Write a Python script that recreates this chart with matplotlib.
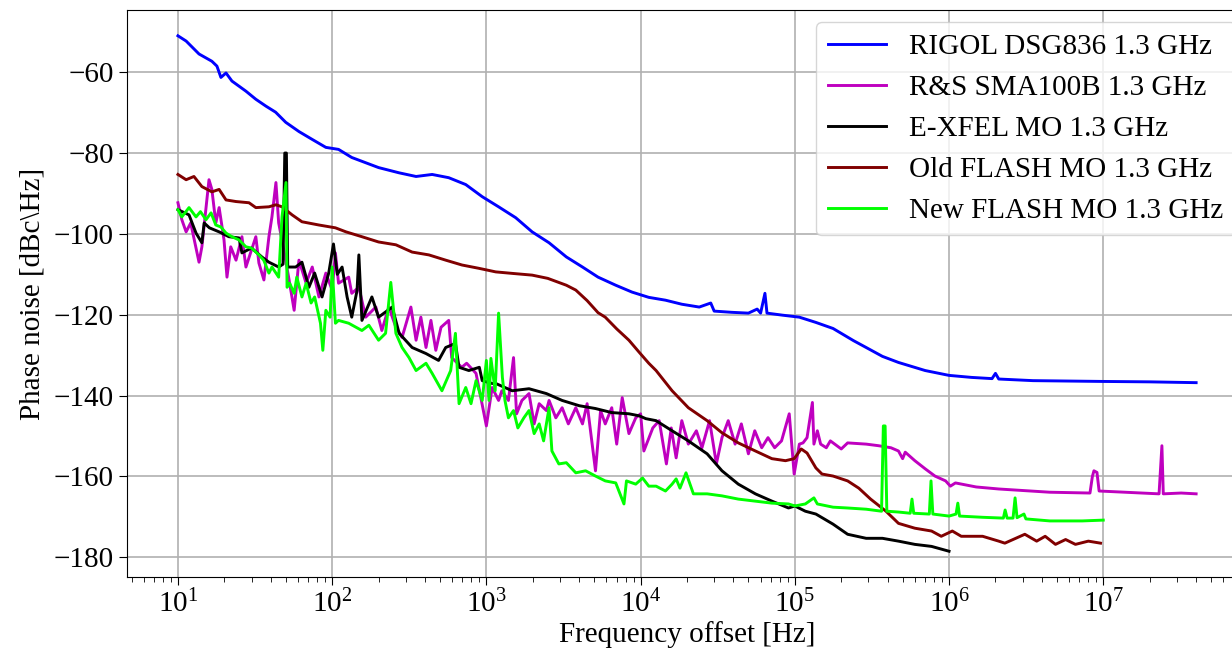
import numpy as np
import matplotlib
matplotlib.use("Agg")
import matplotlib.pyplot as plt
from matplotlib.ticker import NullFormatter

plt.rcParams['font.family'] = ['Liberation Serif', 'DejaVu Serif']
plt.rcParams['mathtext.fontset'] = 'stix'

# (frequency offset [Hz], phase noise [dBc/Hz])
rigol = [(10, -51), (11.3, -52.3), (13.7, -55.5), (16.6, -57.3), (17.9, -58.5), (19, -61.3),
         (20.5, -60.2), (22.4, -62.2), (27.6, -64.7), (32, -66.7), (37.2, -68.4), (43, -69.9),
         (50, -72.4), (61, -74.7), (74, -76.6), (91, -78.6), (110, -79.1), (134, -81.1),
         (165, -82.4), (200, -83.6), (272, -84.9), (350, -85.8), (445, -85.3), (570, -86.1),
         (735, -87.8), (940, -90.8), (1200, -93.3), (1550, -96), (1980, -99.5), (2550, -102.2),
         (3300, -105.7), (4200, -108.2), (5300, -110.7), (6900, -112.7), (8800, -114.4),
         (11300, -115.7), (14500, -116.4), (18500, -117.4), (24000, -118.1), (28500, -117.1),
         (30000, -119.1), (39000, -119.4), (50000, -119.6), (57000, -118.6), (60000, -119.6),
         (64000, -114.7), (66000, -119.6), (83000, -120.1), (107000, -120.6), (137000, -121.9),
         (177000, -123.4), (240000, -126.4), (290000, -128.1), (370000, -130.3), (470000, -131.8),
         (700000, -133.8), (1e6, -135), (1.4e6, -135.5), (1.9e6, -135.8), (2.0e6, -134.5),
         (2.1e6, -135.9), (3.5e6, -136.3), (1e7, -136.5), (2e7, -136.6), (4e7, -136.8)]

rs_sma = [(10, -92.3), (10.6, -96.5), (11.3, -99.5), (12.1, -97.3), (13.7, -107), (14.3, -103.2),
          (15.9, -86.6), (16.6, -89), (17.6, -97.3), (18.5, -93.5), (19.9, -101.5), (20.8, -110.7),
          (22, -103.2), (23.8, -106.5), (26, -100.7), (27.6, -108.2), (32, -100.7), (33.5, -107.2),
          (36.1, -111.4), (38.9, -100.7), (40.7, -95.8), (43.2, -87.3), (45, -97.3), (48.6, -104),
          (52.6, -111.4), (56.7, -118.9), (60.9, -106.5), (67.8, -112.2), (74.3, -108.2),
          (82.1, -115.6), (91, -109.7), (100, -113.9), (105, -104.7), (110, -112.2), (128, -110.7),
          (134, -114.7), (149, -113.2), (165, -120.6), (192, -118.1), (210, -123.9), (233, -118.1),
          (259, -123.1), (284, -125.6), (324, -118.1), (350, -126.3), (376, -120.6), (406, -128.1),
          (437, -121.4), (470, -128.8), (508, -123.1), (570, -121.4), (596, -130.6), (692, -133),
          (745, -132), (857, -134.5), (1000, -147.5), (1090, -138), (1200, -141.2), (1260, -138.8),
          (1390, -141.2), (1500, -130.6), (1570, -144.5), (1700, -141.2), (1890, -139.5),
          (2040, -147), (2200, -142), (2450, -143.7), (2550, -141.2), (2820, -145.5), (3100, -143),
          (3400, -147), (3800, -143), (4200, -147), (4500, -142), (5100, -158.6), (5500, -143.7),
          (5900, -147), (6500, -143), (7000, -152), (7600, -140.5), (8400, -149.4), (9300, -145.5),
          (10000, -144.5), (10500, -153.7), (12000, -148), (13200, -146.2), (14700, -156.9),
          (15800, -148), (17000, -155.4), (18500, -146.2), (20400, -152), (23000, -148.7),
          (25000, -152.9), (28000, -146.2), (31000, -156.9), (33700, -150.4), (37000, -146.2),
          (41000, -152), (45000, -147), (50000, -154.4), (55000, -148.7), (61000, -152.9),
          (67000, -150.4), (74000, -152.9), (82000, -151.2), (92000, -144.5), (99000, -159.4),
          (107000, -152), (113000, -151.7), (120000, -150.4), (130000, -141.7), (133000, -152),
          (140000, -148.7), (147000, -152), (160000, -152.9), (170000, -151.2), (200000, -153.2),
          (220000, -151.7), (290000, -152), (350000, -152.4), (420000, -152.9), (470000, -153.7),
          (500000, -155.6), (520000, -154), (600000, -156.1), (700000, -158.1), (810000, -159.9),
          (950000, -161.1), (1020000, -162.4), (1100000, -161.6), (1500000, -162.6),
          (2100000, -163.1), (4500000, -163.9), (8200000, -164.1), (8500000, -160),
          (8700000, -158.6), (9100000, -159), (9400000, -163.6), (2.3e7, -164.3), (2.4e7, -152.4),
          (2.45e7, -164.3), (3.2e7, -164.1), (4.0e7, -164.3)]

exfel = [(10, -94), (11.8, -95.3), (13.1, -99.8), (14.3, -102.2), (14.8, -97.3), (16, -98.5),
         (18.5, -99.5), (21.4, -100.7), (24.9, -101), (26, -104.7), (30, -103.5), (35, -105.7),
         (38.9, -107), (45, -108.2), (48, -107.5), (49.3, -80), (50.5, -80), (51.5, -108.2),
         (58, -108.2), (63.7, -107), (70.7, -113.2), (77, -109.7), (86, -115.6), (95, -109.7),
         (102, -102.5), (108, -110), (116, -108.2), (125, -115.6), (134, -120.6), (145, -114),
         (149, -105.2), (156, -121.4), (181, -115.6), (200, -120.6), (245, -118.1), (272, -124.6),
         (330, -128.1), (406, -129.6), (490, -131.3), (545, -128.1), (630, -127.1), (665, -133),
         (770, -133.8), (900, -133), (940, -136.3), (1090, -137), (1150, -137), (1470, -138.8),
         (1890, -138.3), (2450, -139.5), (3100, -141.2), (4000, -142.5), (5100, -143.2),
         (6500, -144.2), (8400, -144.5), (9800, -145), (10800, -145.7), (12600, -146.2),
         (16000, -148.7), (20400, -151.2), (27000, -154.4), (33700, -158.6), (43000, -161.9),
         (55500, -164.3), (71000, -166.1), (91000, -167.8), (100000, -167.3), (117000, -168.6),
         (137000, -169.3), (177000, -171.8), (220000, -174.3), (290000, -175.3), (370000, -175.3),
         (470000, -176), (600000, -176.8), (770000, -177.3), (1000000, -178.5)]

old_flash = [(10, -85.3), (11.3, -86.6), (12.7, -85.8), (14.3, -88.3), (16.6, -89.6), (18.5, -89),
             (20.5, -91.6), (23.8, -92), (28.9, -92.3), (32, -93.5), (38.9, -93.3), (43.2, -92.8),
             (47.3, -93.3), (55, -95.3), (63.7, -97), (82, -97.8), (105, -98.5), (123, -99.5),
             (156, -100.7), (200, -102), (259, -102.7), (330, -104.5), (424, -105.2), (545, -106.5),
             (695, -107.7), (890, -108.5), (1150, -109.4), (1500, -109.8), (1980, -110.2),
             (2500, -111), (3300, -112.7), (3800, -113.9), (4500, -116.5), (5300, -119.5),
             (5900, -120.6), (7000, -123.5), (8400, -126.3), (9800, -129.3), (11300, -132),
             (12600, -133.8), (16000, -138.8), (20400, -143), (27000, -146.2), (33700, -149.2),
             (43000, -151.7), (55500, -153.7), (71000, -155.6), (87000, -156.1), (99000, -155.6),
             (110000, -153.2), (120000, -154.2), (137000, -157.9), (150000, -159.4),
             (177000, -159.9), (220000, -161.1), (260000, -162.9), (310000, -165.6),
             (390000, -168.6), (470000, -171.6), (600000, -172.8), (770000, -173.5),
             (890000, -174.8), (1050000, -173.5), (1200000, -174.8), (1650000, -174.8),
             (2100000, -176), (2300000, -176.5), (3100000, -174.3), (3700000, -176),
             (4200000, -174.8), (4900000, -176.8), (5700000, -175.6), (6600000, -176.8),
             (8000000, -176), (9600000, -176.5)]

new_flash = [(10, -94), (10.6, -95.8), (11.8, -93.5), (13.1, -95.8), (14, -94.5), (15.2, -96.5),
             (16.4, -94.8), (17.6, -97.8), (19, -98.3), (20.5, -99.8), (22.4, -100.7), (24.9, -101.5),
             (27.6, -103.2), (30, -103.5), (33.5, -105.2), (36, -106.5), (38.9, -109.7),
             (40.7, -108.2), (45, -110.7), (47.3, -95.8), (50.2, -87.3), (51, -113.2), (53, -112.2),
             (56.7, -114.7), (59, -110.7), (63.7, -115.6), (67.8, -112.2), (73, -117.1),
             (77, -115.6), (84, -122.1), (87, -128.8), (91, -118.9), (97, -120.6), (100, -108.2),
             (105, -122.1), (110, -121.4), (128, -122.1), (143, -123.1), (156, -123.9),
             (173, -122.6), (200, -126.3), (222, -124.6), (240, -112), (259, -124.6), (284, -128.1),
             (315, -130.6), (350, -133.8), (406, -132), (445, -134.5), (515, -138.8), (587, -133.8),
             (630, -124.6), (665, -142), (735, -138), (795, -142), (857, -136.3), (940, -141.2),
             (1000, -131.3), (1040, -141.2), (1070, -130.8), (1140, -138.8), (1200, -119.6),
             (1270, -135.5), (1320, -141.2), (1390, -145.5), (1500, -143.7), (1600, -148),
             (1750, -145.5), (1890, -143.7), (2040, -149.4), (2200, -147), (2350, -151.2),
             (2550, -143), (2660, -153.7), (2950, -156.9), (3300, -156.6), (3800, -159.1),
             (4400, -158.6), (5100, -159.9), (5900, -161.1), (6900, -161.6), (7800, -166.8),
             (8100, -161.1), (9300, -161.9), (10300, -160.4), (11300, -162.4), (12600, -162.4),
             (14500, -163.6), (16000, -161.9), (17000, -160.6), (18000, -162.9), (19700, -159.1),
             (22000, -164.3), (27000, -164.3), (33700, -164.8), (43000, -165.6), (55500, -166.1),
             (71000, -166.6), (91000, -166.8), (100000, -167.3), (117000, -166.8), (133000, -165.3),
             (140000, -166.8), (177000, -167.6), (220000, -167.8), (290000, -168.1),
             (365000, -168.6), (375000, -147.5), (385000, -147.5), (395000, -168.6),
             (470000, -168.8), (560000, -169.1), (575000, -165.6), (590000, -169.1),
             (745000, -169.3), (764000, -161.1), (785000, -169.3), (1000000, -169.8),
             (1110000, -169.3), (1140000, -166.6), (1170000, -169.8), (1650000, -170.1),
             (2250000, -170.3), (2310000, -168.3), (2380000, -170.3), (2600000, -170.3),
             (2680000, -165.3), (2760000, -170.2), (3060000, -169.3), (3150000, -170.5),
             (4500000, -171), (7300000, -171), (10000000, -170.8)]

series = [(rigol, 'RIGOL DSG836 1.3 GHz', '#0000ff'),
          (rs_sma, 'R&S SMA100B 1.3 GHz', '#bf00bf'),
          (exfel, 'E-XFEL MO 1.3 GHz', '#000000'),
          (old_flash, 'Old FLASH MO 1.3 GHz', '#800000'),
          (new_flash, 'New FLASH MO 1.3 GHz', '#00ff00')]

fig = plt.figure(figsize=(12.32, 6.59), dpi=100)
ax = fig.add_axes([0.1031, 0.1244, 0.9091, 0.8604])

for data, label, color in series:
    f, pn = np.array(data).T
    ax.plot(f, pn, color=color, lw=2.1, label=label)

ax.set_xscale('log')
ax.xaxis.set_minor_formatter(NullFormatter())
ax.grid(True, which='major', color='#b0b0b0', lw=1.2)
ax.set_yticks([-60, -80, -100, -120, -140, -160, -180])
ax.tick_params(axis='both', which='major', labelsize=21, length=6)
ax.tick_params(axis='x', which='minor', length=3.5)
ax.set_xlabel('Frequency offset [Hz]', fontsize=21, labelpad=2)
ax.set_ylabel(r'Phase noise [dBc\Hz]', fontsize=21, labelpad=6)
ax.legend(loc='upper right', fontsize=21, borderaxespad=0.4)

fig.savefig('out.png', dpi=100)
